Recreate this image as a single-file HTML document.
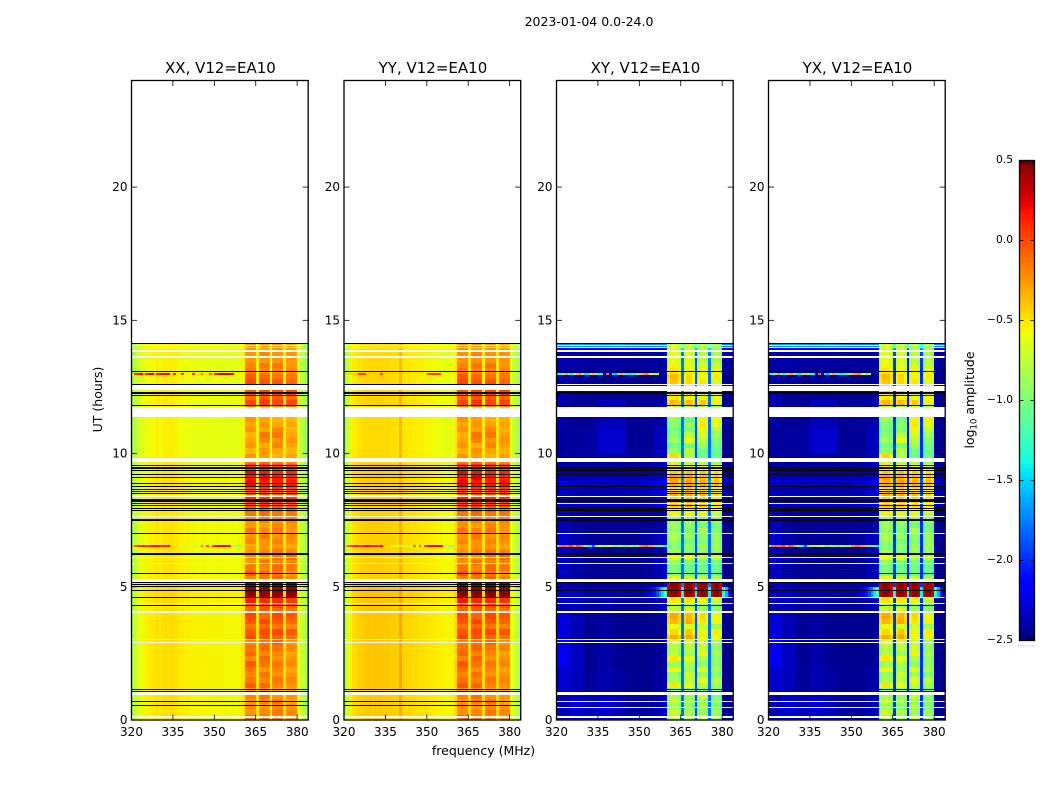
<!DOCTYPE html>
<html lang="en">
<head>
<meta charset="utf-8">
<title>2023-01-04 0.0-24.0</title>
<style>
html,body{margin:0;padding:0;background:#fff;}
svg{display:block;}
text{font-family:"DejaVu Sans","Liberation Sans",sans-serif;fill:#000;}
</style>
</head>
<body>
<svg id="figure" xmlns="http://www.w3.org/2000/svg" width="1050" height="800" viewBox="0 0 1050 800">
  <rect x="0" y="0" width="1050" height="800" fill="#ffffff"/>
  <text x="589" y="26" font-size="12.5" text-anchor="middle">2023-01-04 0.0-24.0</text>
  <text x="0" y="0" font-size="12.5" text-anchor="middle" transform="translate(102 399.5) rotate(-90)">UT (hours)</text>
  <text x="483.5" y="755" font-size="12.5" text-anchor="middle">frequency (MHz)</text>
  <text x="0" y="0" font-size="12.5" text-anchor="middle" transform="translate(974 400) rotate(-90)">log<tspan font-size="8.5" dy="2.5">10</tspan><tspan dy="-2.5"> amplitude</tspan></text>
  <g id="panels"></g>
  <g id="colorbar"></g>
</svg>
<script>
// ---------- categories and tick labels ----------
const panelTitles = ["XX, V12=EA10", "YY, V12=EA10", "XY, V12=EA10", "YX, V12=EA10"];
const freqTicks = [320, 335, 350, 365, 380];
const hourTicks = [0, 5, 10, 15, 20];
const colorbarTicks = [-2.5, -2.0, -1.5, -1.0, -0.5, 0.0, 0.5];
const rowHours = 0.2;
const channelMHz = 1;

// sub-band of each 1 MHz channel from 320 MHz: -1 = outside the bright bands
const channelBandParallel = [
  -1,-1,-1,-1,-1,-1,-1,-1,-1,-1,-1,-1,-1,-1,-1,-1,-1,-1,-1,-1,
  -1,-1,-1,-1,-1,-1,-1,-1,-1,-1,-1,-1,-1,-1,-1,-1,-1,-1,-1,-1,
  -1,0,0,0,0,-1,1,1,1,1,-1,2,2,2,2,-1,3,3,3,3,-1,-1,-1,-1];
const channelBandCross = [
  -1,-1,-1,-1,-1,-1,-1,-1,-1,-1,-1,-1,-1,-1,-1,-1,-1,-1,-1,-1,
  -1,-1,-1,-1,-1,-1,-1,-1,-1,-1,-1,-1,-1,-1,-1,-1,-1,-1,-1,-1,
  0,0,0,0,0,-1,1,1,1,1,-1,2,2,2,2,-1,3,3,3,3,-1,-1,-1,-1];

// ---------- log10 amplitude by frequency channel ----------
const profileXX = [
  -.85,-.75,-.68,-.62,-.6,-.58,-.56,-.55,-.55,-.52,-.55,-.52,-.5,-.53,-.5,-.52,-.52,-.55,-.55,-.57,
  -.56,-.58,-.58,-.59,-.59,-.59,-.58,-.59,-.59,-.59,-.59,-.58,-.59,-.59,-.59,-.6,-.6,-.6,-.6,-.58,
  -.53,-.06,-.04,-.04,-.06,-.52,-.06,-.04,-.04,-.06,-.55,-.06,-.04,-.04,-.06,-.52,-.06,-.04,-.04,-.07,-.66,-.74,-.82,-.88];
const profileYY = [
  -.8,-.68,-.58,-.51,-.49,-.47,-.46,-.45,-.44,-.44,-.45,-.44,-.44,-.44,-.45,-.45,-.45,-.46,-.46,-.47,
  -.34,-.48,-.49,-.49,-.5,-.5,-.51,-.52,-.52,-.53,-.54,-.54,-.55,-.56,-.57,-.58,-.59,-.59,-.59,-.58,
  -.5,-.04,-.02,-.04,-.04,-.48,-.04,-.02,-.04,-.04,-.5,-.04,-.02,-.04,-.04,-.48,-.04,-.02,-.04,-.04,-.6,-.68,-.76,-.84];
const profileXY = [
  -2.46,-2.46,-2.46,-2.46,-2.46,-2.46,-2.46,-2.46,-2.46,-2.46,-2.46,-2.46,-2.46,-2.46,-2.46,-2.46,-2.46,-2.46,-2.46,-2.46,
  -2.46,-2.46,-2.46,-2.46,-2.46,-2.46,-2.46,-2.46,-2.46,-2.46,-2.46,-2.46,-2.46,-2.46,-2.46,-2.46,-2.46,-2.46,-2.46,-2.4,
  -.12,0,0,0,-.12,-1.8,-.12,0,0,-.12,-1.9,-.12,0,0,-.12,-1.8,-.12,0,0,-.15,-2.46,-2.46,-2.46,-2.46];
const profileYX = [
  -2.46,-2.46,-2.46,-2.46,-2.46,-2.46,-2.46,-2.46,-2.46,-2.46,-2.46,-2.46,-2.46,-2.46,-2.46,-2.46,-2.46,-2.46,-2.46,-2.46,
  -2.46,-2.46,-2.46,-2.46,-2.46,-2.46,-2.46,-2.46,-2.46,-2.46,-2.46,-2.46,-2.46,-2.46,-2.46,-2.46,-2.46,-2.46,-2.46,-2.4,
  -.12,0,0,0,-.12,-2.0,-.12,0,0,-.12,-2.1,-.12,0,0,-.12,-2.0,-.12,0,0,-.15,-2.46,-2.46,-2.46,-2.46];

// ---------- offsets outside the bright bands, by 0.2 h time row ----------
const parallelLowRow = [
  .03,.03,.03,.03,.03,.03,.04,.04,.04,.04,.04,.04,.04,.04,.04,.04,.04,.04,.04,.04,.04,.04,.05,
  .06,.06,.05,.02,.02,.02,.02,.02,.02,.02,.02,.02,.02,.02,.02,.01,.01,.02,.02,.02,.02,.03,.03,.02,.02,
  0,-.02,-.02,-.02,-.02,-.02,-.02,-.02,-.02,-.01,-.01,0,0,0,0,-.01,-.01,-.02,-.02,-.02,-.02,-.02,-.02];
const crossLowRow = [
  0,0,0,0,0,0,0,0,0,0,0,0,0,0,0,0,0,0,0,0,0,0,.02,
  .05,.05,.02,0,0,0,0,0,0,0,0,0,0,0,0,.02,.02,.05,.03,.08,.04,.1,.05,.03,.02,
  .02,0,0,0,0,0,0,0,0,.02,.02,0,0,0,0,0,0,0,.03,.03,.06,.3,.7];

// extra brightness in the cross hands: one row per hour 0..14, one column per 5 MHz from 320
const crossLowPatch = [
  [.1,.18,.12,.18,.12,.05,.04,.1],
  [.16,.12,.03,.08,.05,.01,.01,.05],
  [.25,.14,.02,.07,.02,0,0,.02],
  [.2,.1,.02,.05,.01,0,0,.01],
  [.1,.1,.04,.06,.03,.02,.02,.08],
  [.12,.06,.02,.02,.01,.01,.03,.1],
  [.16,.07,.02,.02,.01,.01,.05,.12],
  [.1,.05,.02,.03,.02,.02,.03,.05],
  [.08,.06,.05,.05,.06,.04,.07,.12],
  [.05,.05,.04,.05,.04,.03,.05,.1],
  [.04,.04,.05,.16,.16,.02,.02,.1],
  [.06,.02,.02,.12,.1,.02,.03,.06],
  [.08,.04,.02,.02,.03,.02,.01,.01],
  [.03,.04,.02,.01,.02,0,.01,.01],
  [.04,.12,.07,.05,.1,.04,.02,.02]
];

// strong interference glow next to the bright band in the cross hands
const glowRows = [23, 24];
const glowProfile = [
  -2.5,-2.5,-2.5,-2.5,-2.5,-2.5,-2.5,-2.5,-2.5,-2.5,-2.5,-2.5,-2.5,-2.5,-2.5,-2.5,-2.5,-2.5,-2.5,-2.5,
  -2.5,-2.5,-2.5,-2.5,-2.5,-2.5,-2.5,-2.5,-2.5,-2.5,-2.5,-2.4,-2.3,-2.25,-2.15,-2.05,-1.9,-1.7,-1.45,-1.2,
  -2.5,-2.5,-2.5,-2.5,-2.5,-1.4,-2.5,-2.5,-2.5,-2.5,-1.4,-2.5,-2.5,-2.5,-2.5,-1.4,-2.5,-2.5,-2.5,-2.5,-1.3,-1.6,-2.0,-2.3];

// ---------- bright sub-band amplitude by 0.2 h time row ----------
const parallelHotA = [-.05,-.2,-.15,-.2,-.15,-.2,0,-.1,-.15,-.1,0,-.15,-.05,-.1,-.15,.05,0,-.1,0,.05,-.05,0,.2,.5,.5,.5,-.15,0,-.1,-.2,-.15,-.2,-.25,-.15,-.2,-.1,-.2,-.2,-.1,-.05,.05,.15,0,.05,.25,.2,.25,.05,-.1,-.2,-.3,-.2,-.25,-.3,-.2,-.25,-.2,-.1,-.1,.05,-.05,0,-.1,.05,0,-.1,-.15,-.2,-.2,-.2,-.2];
const parallelHotB = [-.1,-.15,-.2,-.15,-.1,-.2,-.05,-.15,-.1,-.2,-.1,-.05,-.15,-.05,-.1,0,.05,-.05,.05,-.05,0,.05,.15,.5,.5,.5,-.1,-.05,-.15,-.1,-.2,-.15,-.2,-.2,-.1,-.15,-.25,-.15,-.05,0,.1,.1,.05,.1,.2,.25,.2,.1,-.05,-.25,-.2,-.3,-.15,-.1,-.25,-.2,-.25,-.05,-.1,.1,0,.05,.05,0,-.05,-.15,-.1,-.2,-.15,-.25,-.2];
const parallelHotC = [-.15,-.1,-.15,-.1,-.2,-.25,-.15,-.1,-.2,-.15,-.1,-.2,-.15,-.1,-.05,-.05,.05,-.1,0,.05,-.05,.05,.15,.5,.5,.5,-.05,-.1,-.05,-.15,-.1,-.1,-.2,-.15,-.2,-.1,-.15,-.2,-.1,-.05,.05,.1,0,.1,.2,.2,.15,.05,-.1,-.3,-.25,-.15,-.2,-.1,-.15,-.25,-.3,-.1,-.15,.05,0,.05,-.05,0,-.1,-.15,-.1,-.2,-.2,-.2,-.2];
const parallelHotD = [-.2,-.15,-.2,-.25,-.2,-.25,-.2,-.15,-.2,-.25,-.15,-.2,-.25,-.15,-.2,-.1,0,-.15,-.05,0,-.1,0,.1,.5,.5,.5,-.15,-.2,-.1,-.15,-.05,-.15,-.25,-.2,-.15,-.2,-.2,-.15,-.1,-.05,0,.1,.05,.05,.2,.15,.15,0,-.15,-.25,-.3,-.25,-.2,-.25,-.3,-.25,-.3,-.15,-.1,.05,-.05,.05,-.05,-.05,-.1,-.15,-.2,-.2,-.2,-.25,-.25];
const crossHotA = [-.8,-.7,-.85,-.75,-.8,-.9,-.5,-.8,-.9,-.55,-.85,-.5,-.75,-.8,-.65,-.3,-.45,-.6,-.35,-.3,-.7,-.75,-.5,.45,.45,.45,-.6,-.95,-1,-.9,-.6,-.85,-.95,-.9,-.8,-.9,-.85,-.9,-.55,-.5,-.35,-.45,-.3,-.45,-.3,-.25,-.4,-.5,-.7,-.45,-.9,-1.05,-.85,-.95,-1,-.95,-.85,-.7,-.8,-.35,-.5,-.45,-.5,-.4,-.35,-.5,-.55,-.6,-.6,-.65,-.7];
const crossHotB = [-.85,-.8,-.9,-.8,-.85,-.85,-.6,-.75,-.7,-.85,-.8,-.6,-.85,-.75,-.7,-.3,-.4,-.65,-.3,-.35,-.6,-.8,-.5,.45,.45,.45,-.65,-1,-1.05,-.95,-.6,-.95,-.9,-1,-.85,-.95,-.9,-.85,-.6,-.5,-.35,-.4,-.3,-.4,-.25,-.3,-.35,-.55,-.75,-.8,-.75,-1,-.6,-.75,-.95,-.9,-1,-.75,-.85,-.35,-.55,-.4,-.55,-.45,-.45,-.55,-.6,-.65,-.65,-.7,-.75];
const crossHotC = [-.75,-.85,-.8,-.9,-.7,-.9,-.75,-.6,-.85,-.6,-.9,-.8,-.55,-.7,-.65,-.6,-.55,-.7,-.5,-.45,-.85,-.85,-.55,.45,.45,.45,-.7,-1.05,-1,-1,-.75,-.85,-.85,-.95,-.9,-.8,-1,-.9,-.6,-.55,-.4,-.45,-.35,-.45,-.3,-.35,-.4,-.55,-.8,-1.05,-1,-.85,-.75,-.65,-.55,-.5,-.55,-.7,-.75,-.4,-.6,-.5,-.55,-.5,-.55,-.55,-.65,-.75,-.75,-.8,-.8];
const crossHotD = [-.9,-.85,-.95,-.9,-.95,-.95,-.85,-.75,-.95,-.8,-.9,-.9,-.8,-.9,-.85,-.6,-.5,-.85,-.55,-.55,-.9,-.95,-.7,.45,.45,.45,-.8,-1.1,-1.05,-1,-.7,-.9,-.85,-.9,-.85,-.95,-1,-.9,-.7,-.6,-.5,-.5,-.45,-.5,-.35,-.4,-.45,-.6,-.85,-1.05,-1.05,-1,-.95,-.85,-.75,-.6,-.55,-.8,-.9,-.55,-.6,-.55,-.65,-.65,-.5,-.6,-.7,-.8,-.8,-.85,-.85];

// ---------- narrow interference lines, by channel from 320 MHz ----------
const stripHours = [13.0, 6.55];
const stripParallel13 = [-.75,.1,.15,.25,-.4,.15,.25,.3,-.45,.15,.25,.2,.25,.3,-.5,.15,-.55,-.5,.1,-.55,-.5,-.55,.1,-.55,-.5,-.1,-.55,-.5,-.1,-.55,.15,.25,.3,.3,.3,.25,.25,-.5,-.55,-.6];
const stripYY13 = [-.45,-.45,-.45,-.45,-.45,.05,.05,.05,-.42,-.42,-.42,-.42,-.42,.05,-.42,-.42,-.42,-.44,-.44,-.45,-.34,-.46,-.47,-.47,-.48,-.48,-.49,-.5,-.5,-.51,.05,.05,.05,.05,.05,-.56,-.57,-.57,-.57,-.56];
const stripCross13 = [-1.4,-1.1,-.9,-.3,-.8,-1.4,-.7,-.4,-.2,-.9,-1.4,-1.4,-.7,-.4,-.9,-1.3,-1.2,-2.2,-.1,-2.2,-1.4,-1.6,-1,-.3,-1.1,-1.3,-1.4,-1.2,-1.1,-.8,-.4,-.3,-.2,-.4,-.6,-.9,-.8,-2.4,-2.4,-2.4];
const stripParallel6 = [-.4,-.1,.05,.1,.2,.05,.1,.2,.25,.2,.1,.15,.05,.25,-.4,-.5,-.45,-.6,-.6,-.7,-.65,-.55,-.7,-.75,-.6,-.1,-.55,0,-.6,.05,.2,.25,.25,.25,.2,.2,-.5,-.8,-.9,-.95];
const stripCross6 = [-1.2,-.2,-.1,-.2,-.1,0,-.3,-.1,-.1,-.3,-.9,-1.2,-1.4,-1.8,-.9,-.7,-.9,-.8,-.7,-.6,-.9,-1,-.8,-.9,-1,-1.1,-.8,-.9,-1,-.5,-.3,-.2,-.15,-.3,-.3,-.4,-1.1,-.9,-1,-1.3];

// ---------- flagged time ranges in hours: [start, end] ----------
const blackParallel = [[14.09,14.14],[13.04,13.08],[12.57,12.61],[12.25,12.31],[12.17,12.21],[11.77,11.81],[9.54,9.58],[9.42,9.5],[9.34,9.38],[9.19,9.23],[9.09,9.13],[8.87,8.91],[8.75,8.79],[8.64,8.68],[8.54,8.58],[8.47,8.51],[8.19,8.29],[8.09,8.13],[8.02,8.06],[7.93,7.97],[7.83,7.87],[7.5,7.56],[6.99,7.03],[6.2,6.26],[5.49,5.52],[5.13,5.17],[5.08,5.12],[4.98,5.02],[4.86,4.89],[4.58,4.61],[4.29,4.32],[1.14,1.18],[1.06,1.1],[.67,.7],[.52,.55]];
const whiteParallel = [[14.04,14.09],[13.95,13.99],[13.8,13.88],[13.59,13.65],[12.36,12.56],[11.36,11.74],[9.68,9.82],[8.38,8.44],[7.62,7.66],[6.09,6.12],[5.87,5.9],[5.19,5.31],[4.36,4.38],[4,4.09],[3.01,3.04],[2.89,2.92],[.94,1.05],[.09,.15]];
const blackCross = [[14.09,14.14],[13.04,13.08],[12.25,12.31],[12.17,12.21],[11.77,11.81],[9.54,9.58],[9.42,9.5],[9.34,9.38],[9.19,9.23],[9.09,9.13],[8.87,8.91],[8.75,8.79],[8.64,8.68],[8.54,8.58],[8.47,8.51],[8.19,8.29],[8.02,8.06],[7.93,7.97],[7.83,7.87],[7.5,7.56],[6.2,6.26],[5.49,5.52],[5.13,5.17],[4.86,4.89],[4.29,4.32],[1.14,1.18],[1.06,1.1]];
const whiteCross = [[14.04,14.09],[13.95,13.99],[13.8,13.88],[13.59,13.65],[12.57,12.6],[12.36,12.55],[11.36,11.74],[9.68,9.82],[8.38,8.42],[8.09,8.13],[7.62,7.66],[6.99,7.03],[6.09,6.12],[5.87,5.9],[5.19,5.31],[4.58,4.61],[4.36,4.38],[4,4.09],[3.01,3.04],[2.89,2.92],[.94,1.05],[.67,.7],[.46,.49],[.09,.15]];

// ---------- layout ----------
const svgNS = "http://www.w3.org/2000/svg";
const panelLefts = [131.5, 344, 556.5, 768.5];
const panelWidth = 176.7;
const plotTop = 80.5;
const plotBottom = 720;
const freqMin = 320, freqMax = 384, hourMin = 0, hourMax = 24;
const vMin = -2.5, vMax = 0.5;
const barLeft = 1019.5, barRight = 1034.5, barTop = 160.5, barBottom = 640.5;

const panelProfiles = [profileXX, profileYY, profileXY, profileYX];
const panelIsCross = [false, false, true, true];
const panelStrip13 = [stripParallel13, stripYY13, stripCross13, stripCross13];
const panelStrip6 = [stripParallel6, stripParallel6, stripCross6, stripCross6];
const parallelHot = [parallelHotA, parallelHotB, parallelHotC, parallelHotD];
const crossHot = [crossHotA, crossHotB, crossHotC, crossHotD];

function freqScale(left, mhz) { return left + (mhz - freqMin) / (freqMax - freqMin) * panelWidth; }
function hourScale(h) { return plotBottom - (h - hourMin) / (hourMax - hourMin) * (plotBottom - plotTop); }
function barScale(v) { return barBottom - (v - vMin) / (vMax - vMin) * (barBottom - barTop); }

function piece(x, pts) {
  for (let i = 1; i < pts.length; i++) {
    if (x <= pts[i][0]) return pts[i-1][1] + (x - pts[i-1][0]) / (pts[i][0] - pts[i-1][0]) * (pts[i][1] - pts[i-1][1]);
  }
  return pts[pts.length - 1][1];
}
function jet(v) {
  const n = Math.max(0, Math.min(1, (v - vMin) / (vMax - vMin)));
  const r = piece(n, [[0,0],[.35,0],[.66,1],[.89,1],[1,.5]]);
  const g = piece(n, [[0,0],[.125,0],[.375,1],[.64,1],[.91,0],[1,0]]);
  const b = piece(n, [[0,.5],[.11,1],[.34,1],[.65,0],[1,0]]);
  return "rgb(" + Math.round(r*255) + "," + Math.round(g*255) + "," + Math.round(b*255) + ")";
}
function make(tag, parent) {
  const el = document.createElementNS(svgNS, tag);
  parent.appendChild(el);
  return el;
}
function setRect(el, x, y, w, h, fill) {
  el.setAttribute("x", x);
  el.setAttribute("y", y);
  el.setAttribute("width", w);
  el.setAttribute("height", h);
  el.setAttribute("fill", fill);
  el.setAttribute("shape-rendering", "crispEdges");
}
function setLine(el, x1, y1, x2, y2, w) {
  el.setAttribute("x1", x1);
  el.setAttribute("y1", y1);
  el.setAttribute("x2", x2);
  el.setAttribute("y2", y2);
  el.setAttribute("stroke", "#000");
  el.setAttribute("stroke-width", w);
}
function setText(el, x, y, size, anchor, str) {
  el.setAttribute("x", x);
  el.setAttribute("y", y);
  el.setAttribute("font-size", size);
  el.setAttribute("text-anchor", anchor);
  el.textContent = str;
}

function cellValue(p, ch, row) {
  const cross = panelIsCross[p];
  const band = (cross ? channelBandCross : channelBandParallel)[ch];
  const prof = panelProfiles[p][ch];
  let v;
  if (band >= 0) {
    v = prof + (cross ? crossHot : parallelHot)[band][row];
  } else {
    v = prof + (cross ? crossLowRow : parallelLowRow)[row];
    if (cross && ch < 40) {
      const hour = Math.min(14, Math.floor(row * rowHours));
      v += crossLowPatch[hour][Math.floor(ch / 5)];
    }
  }
  if (cross && band < 0 && glowRows.indexOf(row) >= 0) v = Math.max(v, glowProfile[ch]);
  return v;
}

const panelRoot = document.getElementById("panels");
const dataEndHour = 14.12;
const rowCount = parallelHotA.length;
const channelCount = profileXX.length;

panelTitles.forEach(function (title, p) {
  const left = panelLefts[p];
  const right = left + panelWidth;
  const g = make("g", panelRoot);
  
  

  const heat = make("g", g);
  
  
  for (let row = 0; row < rowCount; row++) {
    const h0 = row * rowHours;
    const h1 = Math.min(dataEndHour, (row + 1) * rowHours);
    const y0 = Math.round(hourScale(h1));
    const y1 = Math.round(hourScale(h0));
    for (let ch = 0; ch < channelCount; ch++) {
      const x0 = Math.round(freqScale(left, freqMin + ch * channelMHz));
      const x1 = Math.round(freqScale(left, freqMin + (ch + 1) * channelMHz));
      const cell = make("rect", heat);
      
      
      setRect(cell, x0, y0, x1 - x0, y1 - y0, jet(cellValue(p, ch, row)));
    }
  }

  [panelStrip13[p], panelStrip6[p]].forEach(function (strip, s) {
    const yc = hourScale(stripHours[s]);
    strip.forEach(function (val, ch) {
      const x0 = Math.round(freqScale(left, freqMin + ch * channelMHz));
      const x1 = Math.round(freqScale(left, freqMin + (ch + 1) * channelMHz));
      const seg = make("rect", heat);
      
      
      setRect(seg, x0, Math.round(yc - 0.5), x1 - x0, 2, jet(val));
    });
  });

  const whites = panelIsCross[p] ? whiteCross : whiteParallel;
  whites.forEach(function (range) {
    const y0 = hourScale(range[1]);
    const y1 = hourScale(range[0]);
    const gap = make("rect", g);
    
    
    setRect(gap, Math.round(left), Math.round(y0), Math.round(panelWidth), Math.max(1, Math.round(y1 - y0)), "#ffffff");
  });
  const blacks = panelIsCross[p] ? blackCross : blackParallel;
  blacks.forEach(function (range) {
    const y0 = hourScale(range[1]);
    const y1 = hourScale(range[0]);
    const band = make("rect", g);
    
    
    setRect(band, Math.round(left), Math.round(y0), Math.round(panelWidth), Math.max(1, Math.round(y1 - y0)), "#000000");
  });

  freqTicks.forEach(function (f) {
    const x = freqScale(left, f);
    const bottomTick = make("line", g);
    
    
    setLine(bottomTick, x, plotBottom, x, plotBottom - 5.5, 0.8);
    const topTick = make("line", g);
    
    
    setLine(topTick, x, plotTop, x, plotTop + 5.5, 0.8);
    const label = make("text", g);
    
    
    setText(label, x, plotBottom + 16, 12, "middle", String(f));
  });
  hourTicks.forEach(function (h) {
    const y = hourScale(h);
    const leftTick = make("line", g);
    
    
    setLine(leftTick, left, y, left + 5.5, y, 0.8);
    const rightTick = make("line", g);
    
    
    setLine(rightTick, right, y, right - 5.5, y, 0.8);
    const label = make("text", g);
    
    
    setText(label, left - 4, y + 4, 12, "end", String(h));
  });

  const frame = make("rect", g);
  
  
  frame.setAttribute("x", left);
  frame.setAttribute("y", plotTop);
  frame.setAttribute("width", panelWidth);
  frame.setAttribute("height", plotBottom - plotTop);
  frame.setAttribute("fill", "none");
  frame.setAttribute("stroke", "#000");
  frame.setAttribute("stroke-width", "1.3");

  const titleEl = make("text", g);
  
  
  setText(titleEl, left + panelWidth / 2 + 0.6, 73, 15, "middle", title);
});

// ---------- colorbar ----------
const barRoot = document.getElementById("colorbar");
const levelCount = 128;
for (let i = 0; i < levelCount; i++) {
  const lo = vMin + (vMax - vMin) * i / levelCount;
  const hi = vMin + (vMax - vMin) * (i + 1) / levelCount;
  const y0 = Math.round(barScale(hi));
  const y1 = Math.round(barScale(lo));
  const step = make("rect", barRoot);
  
  
  setRect(step, Math.round(barLeft), y0, Math.round(barRight - barLeft), y1 - y0, jet((lo + hi) / 2));
}
const barFrame = make("rect", barRoot);


barFrame.setAttribute("x", barLeft);
barFrame.setAttribute("y", barTop);
barFrame.setAttribute("width", barRight - barLeft);
barFrame.setAttribute("height", barBottom - barTop);
barFrame.setAttribute("fill", "none");
barFrame.setAttribute("stroke", "#000");
barFrame.setAttribute("stroke-width", "1.3");

colorbarTicks.forEach(function (v) {
  const y = barScale(v);
  const t1 = make("line", barRoot);
  
  
  setLine(t1, barLeft, y, barLeft + 4, y, 0.8);
  const t2 = make("line", barRoot);
  
  
  setLine(t2, barRight, y, barRight - 4, y, 0.8);
  const label = make("text", barRoot);
  
  
  setText(label, 1013, y + 2.5, 10.7, "end", v.toFixed(1).replace("-", "\u2212"));
});

for (let i = 0; i < 6; i++) {
  const x = barLeft + 2 + i * 2.2;
  const topMark = make("line", barRoot);
  
  
  setLine(topMark, x, barTop, x, barTop + 4, 0.6);
  const bottomMark = make("line", barRoot);
  
  
  setLine(bottomMark, x, barBottom, x, barBottom - 4, 0.6);
}
const dots = make("line", barRoot);


setLine(dots, 1017.5, 646, 1034.5, 646, 1);
dots.setAttribute("stroke", "#999");
dots.setAttribute("stroke-dasharray", "1 2");
</script>
</body>
</html>
